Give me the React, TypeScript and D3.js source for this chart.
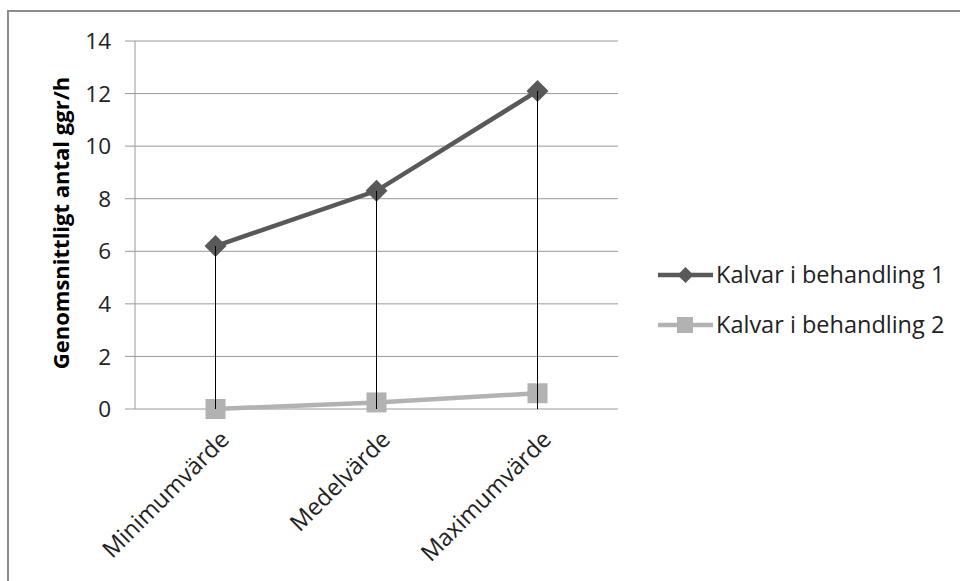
import React from "react";
import * as d3 from "d3";

const categories = ["Minimumvärde", "Medelvärde", "Maximumvärde"];
const series1Name = "Kalvar i behandling 1";
const series2Name = "Kalvar i behandling 2";
const series1 = [6.2, 8.3, 12.1];
const series2 = [0, 0.25, 0.6];
const yTicks = [0, 2, 4, 6, 8, 10, 12, 14];
const yTitle = "Genomsnittligt antal ggr/h";

const W = 960;
const H = 581;
const plot = { left: 135, right: 618, top: 41, bottom: 409 };
const FONT = "'Open Sans', Lato, sans-serif";
const c1 = "#595959";
const c2 = "#b2b2b2";

export default function App() {
  const x = d3.scalePoint<string>().domain(categories).range([plot.left, plot.right]).padding(0.5);
  const y = d3.scaleLinear().domain([0, 14]).range([plot.bottom, plot.top]);
  const line = d3
    .line<number>()
    .x((_, i) => x(categories[i]) as number)
    .y((d) => y(d));
  const diamond = (cx: number, cy: number, r: number) =>
    `M${cx},${cy - r}L${cx + r},${cy}L${cx},${cy + r}L${cx - r},${cy}Z`;

  return (
    <svg
      width={W}
      height={H}
      style={{ position: "absolute", left: 0, top: 0, background: "#fff" }}
      fontFamily={FONT}
    >
      <rect x={8} y={11} width={W + 20} height={H + 20} fill="#fff" stroke="#8c8c8c" strokeWidth={2} />
      {yTicks.map((t) => (
        <g key={t}>
          <line x1={plot.left - 10} x2={plot.right} y1={y(t)} y2={y(t)} stroke="#9a9a9a" strokeWidth={1} />
          <text x={111} y={y(t)} dy="0.36em" textAnchor="end" fontSize={22.5} fill="#222">
            {t}
          </text>
        </g>
      ))}
      <line x1={plot.left} x2={plot.left} y1={plot.top} y2={plot.bottom} stroke="#9a9a9a" strokeWidth={1} />
      <text
        transform={`translate(69,${(plot.top + plot.bottom) / 2 - 2}) rotate(-90)`}
        textAnchor="middle"
        fontSize={22}
        fontWeight="bold"
        fill="#000"
      >
        {yTitle}
      </text>
      {categories.map((c) => (
        <text
          key={c}
          transform={`translate(${(x(c) as number) + 9},${plot.bottom + 26}) rotate(-45)`}
          textAnchor="end"
          dy="0.36em"
          fontSize={23.5}
          fill="#222"
        >
          {c}
        </text>
      ))}
      <path d={line(series2) || ""} fill="none" stroke={c2} strokeWidth={4.5} />
      {series2.map((v, i) => (
        <rect
          key={i}
          x={(x(categories[i]) as number) - 10}
          y={y(v) - 10}
          width={20}
          height={20}
          fill={c2}
        />
      ))}
      <path d={line(series1) || ""} fill="none" stroke={c1} strokeWidth={4.5} />
      {series1.map((v, i) => (
        <path key={i} d={diamond(x(categories[i]) as number, y(v), 11)} fill={c1} />
      ))}
      {series1.map((v, i) => (
        <line
          key={i}
          x1={x(categories[i]) as number}
          x2={x(categories[i]) as number}
          y1={y(v)}
          y2={y(0)}
          stroke="#000"
          strokeWidth={1}
        />
      ))}
      <g>
        <line x1={658} x2={713} y1={275} y2={275} stroke={c1} strokeWidth={4.5} />
        <path d={diamond(685.5, 275, 8)} fill={c1} />
        <text x={716} y={275} dy="0.36em" fontSize={23.5} fill="#222">
          {series1Name}
        </text>
        <line x1={658} x2={713} y1={325} y2={325} stroke={c2} strokeWidth={4.5} />
        <rect x={677} y={317} width={16} height={16} fill={c2} />
        <text x={716} y={325} dy="0.36em" fontSize={23.5} fill="#222">
          {series2Name}
        </text>
      </g>
    </svg>
  );
}
